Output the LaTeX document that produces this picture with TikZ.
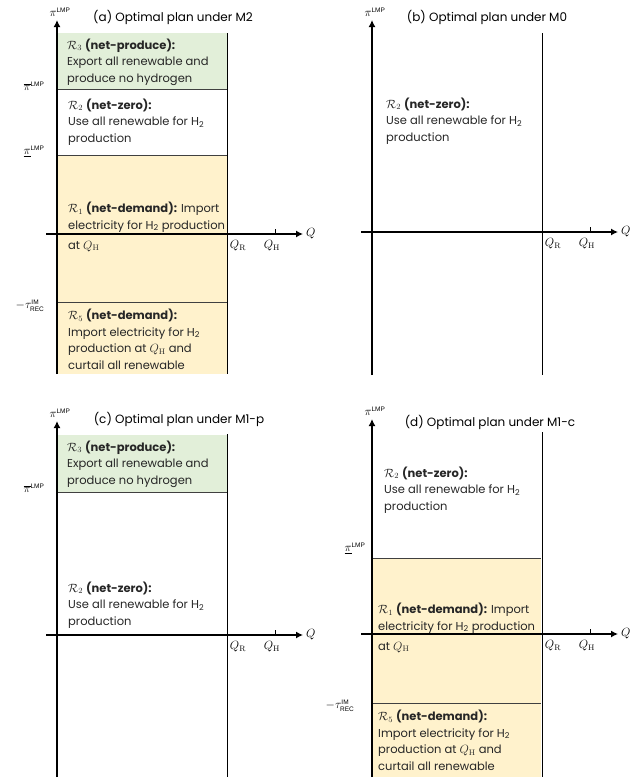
\documentclass[tikz,border=0pt]{standalone}
\usepackage[no-math]{fontspec}
\setmainfont{Poppins}
\setsansfont{Liberation Sans}
\usetikzlibrary{arrows.meta}
\definecolor{producegreen}{RGB}{226,239,217}
\definecolor{demandorange}{RGB}{255,242,204}
\tikzset{
	axis/.style={line width=1.6pt,-{Latex[length=7pt,width=7pt]}},
	bound/.style={line width=0.8pt,black!75},
	region/.style={anchor=base west,align=left,inner sep=0pt,text=black!85,
		font=\fontsize{11.5}{16.5}\selectfont},
	title/.style={inner sep=0pt,font=\fontsize{12}{14}\selectfont},
	lbl/.style={inner sep=0pt,font=\fontsize{12}{14}\selectfont},
}
\newcommand{\supsf}[1]{\textsf{\fontsize{6.5}{7}\selectfont #1}}
\newcommand{\lmp}{\supsf{LMP}}
\newcommand{\recim}{-\tau^{\supsf{IM}}_{\supsf{REC}}}
\begin{document}
\begin{tikzpicture}[x=1pt,y=-1pt]
	\useasboundingbox (0,0) rectangle (642,782);
	% coloured regions
	\fill[producegreen] (57,33) rectangle (227,89);
	\fill[demandorange] (57,155) rectangle (227,374);
	\fill[producegreen] (57,435) rectangle (227,492);
	\fill[demandorange] (372,558) rectangle (541,777);
	\draw[bound] (57,89) -- (227,89);
	\draw[bound] (57,155) -- (227,155);
	\draw[bound] (57,302) -- (227,302);
	\draw[bound] (57,492) -- (227,492);
	\draw[bound] (372,558) -- (541,558);
	\draw[bound] (372,703) -- (541,703);
	% axes of the four plans
	\foreach \p/\ox/\oy/\yt/\yb in {a/57/234/20/374, b/372/232/20/375, c/57/635/421/777, d/372/634/419/777}{
		\coordinate (\p-bot) at (\ox,\yb);
		\coordinate (\p-top) at (\ox,\yt);
		\coordinate (\p-left) at (\ox-11,\oy);
		\coordinate (\p-right) at (\ox+246,\oy);
		\draw[line width=1pt] (\ox+170,\yt+13) -- (\ox+170,\yb);
		\draw[axis] (\p-bot) -- (\p-top);
		\draw[axis,line width=1.3pt] (\p-left) -- (\p-right);
		\draw (\ox+218,\oy) -- (\ox+218,\oy-5);
		\node[lbl,anchor=west] (\p-Q) at ([xshift=3pt]\p-right) {\large$Q$};
		\node[lbl] (\p-QR) at (\ox+181,\oy+12) {$Q_{\mathrm{R}}$};
		\node[lbl] (\p-QH) at (\ox+215,\oy+12) {$Q_{\mathrm{H}}$};
		\node[lbl,anchor=south] (\p-pi) at ([xshift=3pt,yshift=3pt]\p-top) {$\pi^{\lmp}$};
	}
	% titles
	\node[title] (a-title) at (173,17) {(a) Optimal plan under M2};
	\node[title] (b-title) at (487,17) {(b) Optimal plan under M0};
	\node[title] (c-title) at (179,419) {(c) Optimal plan under M1-p};
	\node[title] (d-title) at (490,422) {(d) Optimal plan under M1-c};
	% price levels
	\node[lbl] (a-pimax) at (34,86) {$\overline{\pi}^{\lmp}$};
	\node[lbl] (a-pimin) at (34,151) {$\underline{\pi}^{\lmp}$};
	\node[lbl] (a-rec) at (30,306) {$\recim$};
	\node[lbl] (c-pimax) at (34,488) {$\overline{\pi}^{\lmp}$};
	\node[lbl] (d-pimin) at (355,548) {$\underline{\pi}^{\lmp}$};
	\node[lbl] (d-rec) at (340,706) {$\recim$};
	% regions (placed by the baseline of their last line)
	\node[region] (a-R3) at (67,82) {$\mathcal{R}_3$ \textbf{(net-produce):}\\Export all renewable and\\produce no hydrogen};
	\node[region] (a-R2) at (68,142) {$\mathcal{R}_2$ \textbf{(net-zero):}\\Use all renewable for H\textsubscript{2}\\production};
	\node[region] (a-R1) at (68,249) {$\mathcal{R}_1$ \textbf{(net-demand):} Import\\electricity for H\textsubscript{2} production\\[3.5pt]at $Q_{\mathrm{H}}$};
	\node[region] (a-R5) at (68,369) {$\mathcal{R}_5$ \textbf{(net-demand):}\\Import electricity for H\textsubscript{2}\\production at $Q_{\mathrm{H}}$ and\\curtail all renewable};
	\node[region] (b-R2) at (386,141) {$\mathcal{R}_2$ \textbf{(net-zero):}\\Use all renewable for H\textsubscript{2}\\production};
	\node[region] (c-R3) at (67,484) {$\mathcal{R}_3$ \textbf{(net-produce):}\\Export all renewable and\\produce no hydrogen};
	\node[region] (c-R2) at (68,625) {$\mathcal{R}_2$ \textbf{(net-zero):}\\Use all renewable for H\textsubscript{2}\\production};
	\node[region] (d-R2) at (384,510) {$\mathcal{R}_2$ \textbf{(net-zero):}\\Use all renewable  for H\textsubscript{2}\\production};
	\node[region] (d-R1) at (378,650) {$\mathcal{R}_1$ \textbf{(net-demand):} Import\\electricity for H\textsubscript{2} production\\[3.5pt]at $Q_{\mathrm{H}}$};
	\node[region] (d-R5) at (378,770) {$\mathcal{R}_5$ \textbf{(net-demand):}\\Import electricity for H\textsubscript{2}\\production at $Q_{\mathrm{H}}$ and\\curtail all renewable};
\end{tikzpicture}
\end{document}
